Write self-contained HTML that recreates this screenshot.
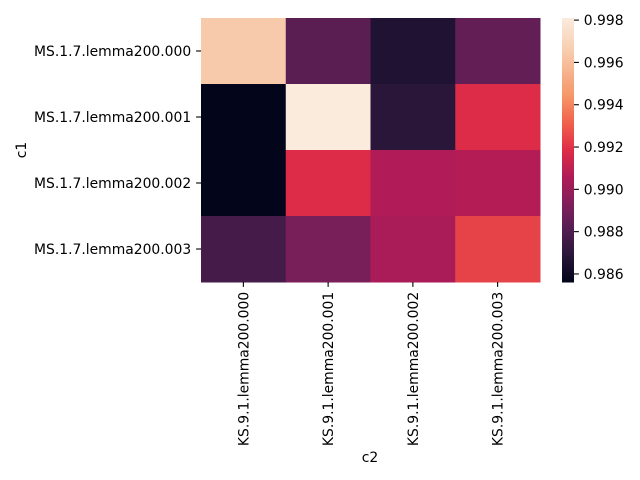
<!DOCTYPE html>
<html><head><meta charset="utf-8"><style>
body{margin:0;background:#fff;}
svg{display:block;font-family:"DejaVu Sans","Liberation Sans",sans-serif;}
</style></head><body>
<svg id="chart" width="640" height="480"></svg>
<script>
const rowLabels=["MS.1.7.lemma200.000","MS.1.7.lemma200.001","MS.1.7.lemma200.002","MS.1.7.lemma200.003"];
const colLabels=["KS.9.1.lemma200.000","KS.9.1.lemma200.001","KS.9.1.lemma200.002","KS.9.1.lemma200.003"];
const row0=[0.9965,0.9883,0.9866,0.9885];
const row1=[0.9856,0.9981,0.9869,0.9918];
const row2=[0.9856,0.9918,0.9906,0.9907];
const row3=[0.9877,0.9891,0.9904,0.9924];
const cbTicks=[0.986,0.988,0.990,0.992,0.994,0.996,0.998];
const vmin=0.98562, vmax=0.9981;
const values=[row0,row1,row2,row3];
const stops=[[0,[3,5,26]],[0.1,[40,22,56]],[0.2,[84,30,82]],[0.3,[130,31,91]],[0.4,[177,27,87]],[0.5,[222,45,71]],[0.6,[240,96,75]],[0.7,[245,149,103]],[0.8,[246,180,143]],[0.9,[248,211,184]],[1,[250,235,221]]];
function cmap(t){t=Math.max(0,Math.min(1,t));for(let i=1;i<stops.length;i++){if(t<=stops[i][0]){const a=stops[i-1],b=stops[i];const f=(t-a[0])/(b[0]-a[0]);return 'rgb('+a[1].map((v,k)=>Math.round(v+(b[1][k]-v)*f)).join(',')+')';}}return 'rgb(250,235,221)';}
const X0=201,X1=540,Y0=18,Y1=282,FS=13.9,TL=4.9,PAD=4.9;
const cw=(X1-X0)/colLabels.length, ch=(Y1-Y0)/rowLabels.length;
const xs=i=>X0+i*cw, ys=j=>Y0+j*ch;
const svg=document.getElementById('chart');const NS='http://www.w3.org/2000/svg';
function mk(tag,attrs,txt){const e=document.createElementNS(NS,tag);for(const k in attrs)e.setAttribute(k,attrs[k]);if(txt!==undefined)e.textContent=txt;svg.appendChild(e);return e;}
values.forEach((row,j)=>row.forEach((v,i)=>{
 const r=mk('rect',{x:xs(i),y:ys(j),width:cw+0.5,height:ch+0.5,fill:cmap((v-vmin)/(vmax-vmin))});
 
 
}));
rowLabels.forEach((l,j)=>{
 const y=ys(j)+ch/2;
 mk('line',{x1:X0-TL,x2:X0,y1:y,y2:y,stroke:'#000','stroke-width':1.1});
 const t=mk('text',{x:X0-TL-PAD,y:y+5,'font-size':FS,'text-anchor':'end'},l);
 
 
});
colLabels.forEach((l,i)=>{
 const x=xs(i)+cw/2;
 mk('line',{x1:x,x2:x,y1:Y1,y2:Y1+TL,stroke:'#000','stroke-width':1.1});
 const tx=x+5, ty=Y1+TL+PAD;
 const t=mk('text',{x:tx,y:ty,'font-size':FS,'text-anchor':'end',transform:`rotate(-90 ${tx} ${ty})`},l);
 
 
});
const yl=mk('text',{x:26,y:150,'font-size':FS,'text-anchor':'middle',transform:'rotate(-90 26 150)'},'c1');


const xl=mk('text',{x:370,y:462,'font-size':FS,'text-anchor':'middle'},'c2');


const CX=562,CW=12;
const cbY=v=>Y1-(v-vmin)/(vmax-vmin)*(Y1-Y0);
for(let k=0;k<132;k++){const y=Y0+k*2;const v=vmax-(k*2+1)/(Y1-Y0)*(vmax-vmin);
 const r=mk('rect',{x:CX,y:y,width:CW,height:2.5,fill:cmap((v-vmin)/(vmax-vmin))});
 
 
}
cbTicks.forEach(v=>{const y=cbY(v);
 mk('line',{x1:CX+CW,x2:CX+CW+TL,y1:y,y2:y,stroke:'#000','stroke-width':1.1});
 const t=mk('text',{x:CX+CW+TL+PAD,y:y+5,'font-size':FS},v.toFixed(3));
 
 
});
</script>
</body></html>
